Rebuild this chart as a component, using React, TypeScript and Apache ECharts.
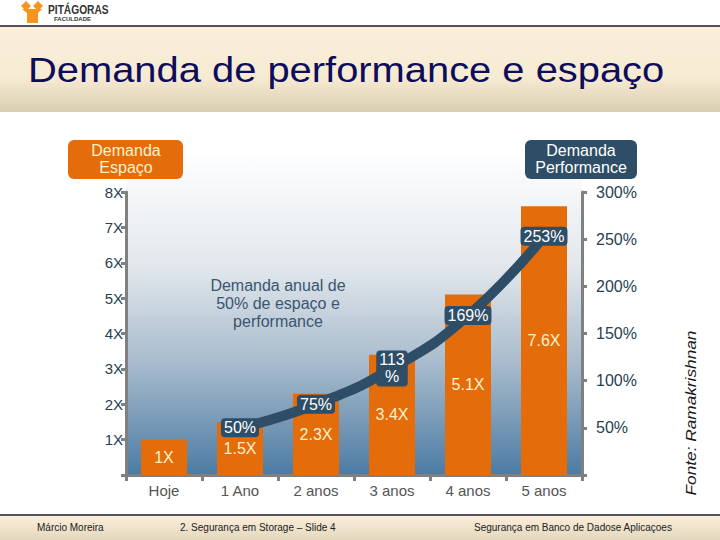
import React, { useEffect, useRef } from "react";
import * as echarts from "echarts";

const categories = ["Hoje", "1 Ano", "2 anos", "3 anos", "4 anos", "5 anos"];
const spaceDemand = [1, 1.5, 2.3, 3.4, 5.1, 7.6];
const spaceLabels = ["1X", "1.5X", "2.3X", "3.4X", "5.1X", "7.6X"];
const perfDemand: (number | null)[] = [null, 50, 75, 113, 169, 253];
const perfLabels = ["", "50%", "75%", "113\n%", "169%", "253%"];

const title = "Demanda de performance e espaço";
const footerTexts = ["Márcio Moreira", "2. Segurança em Storage – Slide 4", "Segurança em Banco de Dadose Aplicaçoes"];

const FONT = "Arial, 'Liberation Sans', sans-serif";

export default function App() {
  const ref = useRef<HTMLDivElement>(null);
  useEffect(() => {
    if (!ref.current) return;
    const chart = echarts.init(ref.current, undefined, { renderer: "svg" });
    const option: any = {
      animation: false,
      backgroundColor: "#ffffff",
      textStyle: { fontFamily: FONT },
      grid: { left: 126, right: 138, top: 192, bottom: 65, containLabel: false },
      xAxis: {
        type: "category",
        data: categories,
        boundaryGap: true,
        axisLine: { show: true, lineStyle: { color: "#808080", width: 3 } },
        axisTick: { show: true, length: 6, alignWithLabel: false, lineStyle: { color: "#808080", width: 3 } },
        axisLabel: { color: "#555555", fontSize: 15, margin: 8, fontFamily: FONT },
      },
      yAxis: [
        {
          type: "value",
          min: 0,
          max: 8,
          interval: 1,
          position: "left",
          axisLine: { show: true, lineStyle: { color: "#808080", width: 3 } },
          axisTick: { show: true, length: 5, lineStyle: { color: "#808080", width: 3 } },
          splitLine: { show: false },
          axisLabel: {
            color: "#263f52",
            fontSize: 15,
            margin: 3,
            fontFamily: FONT,
            formatter: (v: number) => (v === 0 ? "" : v + "X"),
          },
        },
        {
          type: "value",
          min: 0,
          max: 300,
          interval: 50,
          position: "right",
          axisLine: { show: true, lineStyle: { color: "#808080", width: 3 } },
          axisTick: { show: true, length: 5, lineStyle: { color: "#808080", width: 3 } },
          splitLine: { show: false },
          axisLabel: {
            color: "#263f52",
            fontSize: 16,
            margin: 14,
            fontFamily: FONT,
            formatter: (v: number) => (v === 0 ? "" : v + "%"),
          },
        },
      ],
      series: [
        {
          type: "bar",
          yAxisIndex: 0,
          data: spaceDemand,
          barWidth: 46,
          itemStyle: { color: "#e46c0a" },
          label: {
            show: true,
            position: "inside",
            color: "#fff2cc",
            fontSize: 16,
            fontFamily: FONT,
            formatter: (p: any) => spaceLabels[p.dataIndex],
          },
          z: 2,
        },
        {
          type: "line",
          yAxisIndex: 1,
          data: perfDemand,
          smooth: true,
          showSymbol: true,
          symbol: "circle",
          symbolSize: 1,
          itemStyle: { color: "#2e4d66" },
          lineStyle: { color: "#2e4d66", width: 10 },
          label: {
            show: true,
            position: "inside",
            color: "#ffffff",
            fontSize: 16,
            lineHeight: 17,
            fontFamily: FONT,
            backgroundColor: "#2e4d66",
            borderRadius: 4,
            padding: [1, 3],
            formatter: (p: any) => perfLabels[p.dataIndex],
          },
          z: 3,
        },
      ],
      graphic: [
        // plot background gradient
        {
          type: "rect",
          z: -10,
          silent: true,
          shape: { x: 127, y: 150, width: 455, height: 325 },
          style: {
            fill: new echarts.graphic.LinearGradient(0, 0, 0, 1, [
              { offset: 0, color: "#ffffff" },
              { offset: 0.35, color: "#e3e8ed" },
              { offset: 0.65, color: "#a9bccd" },
              { offset: 1, color: "#4c7ba3" },
            ]),
          },
        },
        // header band
        {
          type: "rect",
          z: -5,
          shape: { x: 0, y: 27, width: 720, height: 85 },
          style: {
            fill: new echarts.graphic.LinearGradient(0, 0, 0, 1, [
              { offset: 0, color: "#fbeedb" },
              { offset: 0.6, color: "#f6ebd2" },
              { offset: 1, color: "#d9ceb0" },
            ]),
          },
        },
        { type: "line", shape: { x1: 0, y1: 26, x2: 720, y2: 26 }, style: { stroke: "#1a1a2a", lineWidth: 1.5 } },
        // logo
        { type: "polygon", shape: { points: [[26, 1], [31, 6], [26, 11], [21, 6]] }, style: { fill: "#f7941d" } },
        { type: "polygon", shape: { points: [[38, 1], [43, 6], [38, 11], [33, 6]] }, style: { fill: "#f7941d" } },
        { type: "polygon", shape: { points: [[22, 9], [42, 9], [38, 13], [38, 23], [27, 23], [27, 13]] }, style: { fill: "#f7941d" } },
        {
          type: "text",
          x: 48,
          y: 4,
          scaleX: 0.85,
          style: { text: "PITÁGORAS", font: "bold 12px " + FONT, fill: "#333333" },
        },
        {
          type: "text",
          x: 54,
          y: 16,
          style: { text: "FACULDADE", font: "bold 6px " + FONT, fill: "#333333" },
        },
        // title
        {
          type: "text",
          x: 28,
          y: 70,
          scaleX: 1.108,
          style: { text: title, font: "36px " + FONT, fill: "#0d0d5c", verticalAlign: "middle" },
        },
        // boxes
        {
          type: "rect",
          shape: { x: 68, y: 140, width: 115, height: 39, r: 6 },
          style: { fill: "#e46c0a" },
        },
        {
          type: "text",
          x: 126,
          y: 159,
          style: {
            text: "Demanda\nEspaço",
            font: "16px " + FONT,
            fill: "#fff2cc",
            align: "center",
            verticalAlign: "middle",
            lineHeight: 17,
          },
        },
        {
          type: "rect",
          shape: { x: 525, y: 140, width: 112, height: 39, r: 6 },
          style: { fill: "#2e4d66" },
        },
        {
          type: "text",
          x: 581,
          y: 159,
          style: {
            text: "Demanda\nPerformance",
            font: "16px " + FONT,
            fill: "#ffffff",
            align: "center",
            verticalAlign: "middle",
            lineHeight: 17,
          },
        },
        // annotation
        {
          type: "text",
          x: 278,
          y: 303,
          style: {
            text: "Demanda anual de\n50% de espaço e\nperformance",
            font: "16px " + FONT,
            fill: "#3a5570",
            align: "center",
            verticalAlign: "middle",
            lineHeight: 18,
          },
        },
        // source
        {
          type: "text",
          x: 690,
          y: 413,
          rotation: Math.PI / 2,
          scaleX: 1.15,
          style: {
            text: "Fonte: Ramakrishnan",
            font: "italic 15px " + FONT,
            fill: "#1a1a1a",
            align: "center",
            verticalAlign: "middle",
          },
        },
        // footer
        { type: "line", shape: { x1: 0, y1: 515, x2: 720, y2: 515 }, style: { stroke: "#1a1a2a", lineWidth: 1.5 } },
        {
          type: "rect",
          z: -5,
          shape: { x: 0, y: 516, width: 720, height: 24 },
          style: {
            fill: new echarts.graphic.LinearGradient(0, 0, 0, 1, [
              { offset: 0, color: "#fbeedb" },
              { offset: 1, color: "#e3d8bd" },
            ]),
          },
        },
        {
          type: "text",
          x: 37,
          y: 527,
          style: { text: footerTexts[0], font: "10px " + FONT, fill: "#222222", verticalAlign: "middle" },
        },
        {
          type: "text",
          x: 180,
          y: 527,
          style: { text: footerTexts[1], font: "10px " + FONT, fill: "#222222", verticalAlign: "middle" },
        },
        {
          type: "text",
          x: 474,
          y: 527,
          style: { text: footerTexts[2], font: "10px " + FONT, fill: "#222222", verticalAlign: "middle" },
        },
      ],
    };
    chart.setOption(option);
    return () => chart.dispose();
  }, []);
  return <div ref={ref} style={{ position: "fixed", left: 0, top: 0, width: 720, height: 540 }} />;
}
